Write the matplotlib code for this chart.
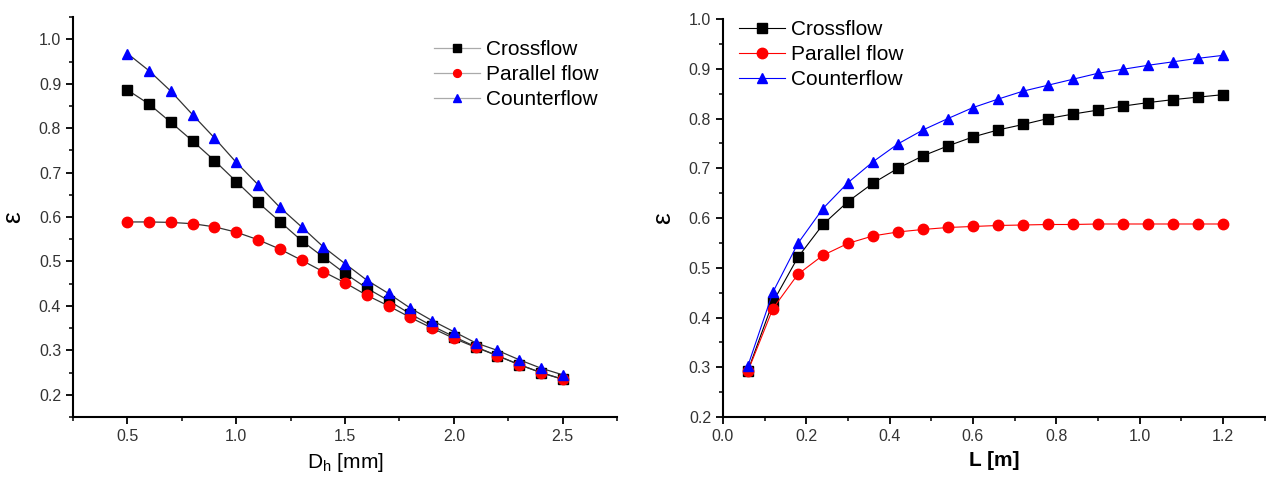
import matplotlib.pyplot as plt
import numpy as np
from matplotlib.ticker import MultipleLocator

plt.rcParams['font.family'] = ['Liberation Sans', 'DejaVu Sans']

# left panel: effectiveness vs hydraulic diameter
dh = [0.5, 0.6, 0.7, 0.8, 0.9, 1.0, 1.1, 1.2, 1.3, 1.4, 1.5,
      1.6, 1.7, 1.8, 1.9, 2.0, 2.1, 2.2, 2.3, 2.4, 2.5]
cross_dh = [0.886, 0.854, 0.813, 0.771, 0.727, 0.680, 0.633, 0.590, 0.547, 0.510, 0.473,
            0.440, 0.412, 0.382, 0.355, 0.331, 0.308, 0.288, 0.268, 0.250, 0.235]
par_dh = [0.589, 0.589, 0.588, 0.585, 0.578, 0.566, 0.549, 0.528, 0.503, 0.477, 0.452,
          0.424, 0.400, 0.374, 0.350, 0.327, 0.307, 0.288, 0.268, 0.250, 0.235]
counter_dh = [0.968, 0.929, 0.883, 0.830, 0.778, 0.723, 0.673, 0.622, 0.578, 0.533, 0.495,
              0.458, 0.428, 0.395, 0.367, 0.342, 0.317, 0.300, 0.279, 0.260, 0.245]

# right panel: effectiveness vs length
L = [0.06, 0.12, 0.18, 0.24, 0.30, 0.36, 0.42, 0.48, 0.54, 0.60,
     0.66, 0.72, 0.78, 0.84, 0.90, 0.96, 1.02, 1.08, 1.14, 1.20]
cross_L = [0.293, 0.431, 0.521, 0.587, 0.633, 0.670, 0.700, 0.725, 0.745, 0.763,
           0.777, 0.788, 0.800, 0.809, 0.817, 0.825, 0.832, 0.838, 0.843, 0.848]
par_L = [0.292, 0.418, 0.487, 0.525, 0.549, 0.564, 0.572, 0.577, 0.581, 0.583,
         0.585, 0.586, 0.587, 0.587, 0.588, 0.588, 0.588, 0.588, 0.588, 0.588]
counter_L = [0.303, 0.451, 0.549, 0.619, 0.671, 0.713, 0.749, 0.777, 0.800, 0.822,
             0.839, 0.855, 0.867, 0.879, 0.891, 0.899, 0.907, 0.914, 0.921, 0.927]

labels = ['Crossflow', 'Parallel flow', 'Counterflow']
colors = ['black', 'red', 'blue']
markers = ['s', 'o', '^']

fig = plt.figure(figsize=(12.66, 4.83), dpi=100)
ax1 = fig.add_axes([0.0577, 0.1366, 0.4297, 0.828])
ax2 = fig.add_axes([0.571, 0.1366, 0.428, 0.824])


def style(ax):
    for s in ['top', 'right']:
        ax.spines[s].set_visible(False)
    for s in ['left', 'bottom']:
        ax.spines[s].set_linewidth(1.5)
    ax.tick_params(which='major', direction='out', length=5, width=1.3,
                   labelsize=11.5, labelcolor='#333333')
    ax.tick_params(which='minor', direction='out', length=3, width=1.1)
    ax.yaxis.set_major_locator(MultipleLocator(0.1))
    ax.yaxis.set_minor_locator(MultipleLocator(0.05))
    ax.set_ylabel('ε', fontsize=19, labelpad=10)


# left
for y, c, m, lab in zip([cross_dh, par_dh, counter_dh], colors, markers, labels):
    ax1.plot(dh, y, color='#333333', lw=0.9, marker=m, ms=7.5, mfc=c, mec=c,
             label=lab)
style(ax1)
ax1.set_xlim(0.25, 2.75)
ax1.set_ylim(0.15, 1.05)
ax1.xaxis.set_major_locator(MultipleLocator(0.5))
ax1.xaxis.set_minor_locator(MultipleLocator(0.25))
ax1.set_xlabel('D$_\\mathregular{h}$ [mm]', fontsize=15, labelpad=5)
leg = ax1.legend(loc='upper right', bbox_to_anchor=(1.0, 0.99), frameon=False,
                 fontsize=15, handlelength=2.2, handletextpad=0.3,
                 labelspacing=0.3, markerscale=0.75)
for h in leg.legend_handles:
    h.set_color('#aaaaaa')

# right
for y, c, m, lab in zip([cross_L, par_L, counter_L], colors, markers, labels):
    ax2.plot(L, y, color=c, lw=0.8, marker=m, ms=7.5, mfc=c, mec=c, label=lab)
style(ax2)
ax2.set_xlim(0.0, 1.3)
ax2.set_ylim(0.2, 1.0)
ax2.xaxis.set_major_locator(MultipleLocator(0.2))
ax2.xaxis.set_minor_locator(MultipleLocator(0.1))
ax2.set_xlabel('L [m]', fontsize=15, fontweight='bold', labelpad=5)
ax2.legend(loc='upper left', bbox_to_anchor=(-0.005, 1.045), frameon=False,
           fontsize=15, handlelength=2.2, handletextpad=0.3,
           labelspacing=0.3)

fig.savefig('out.png', dpi=100)
